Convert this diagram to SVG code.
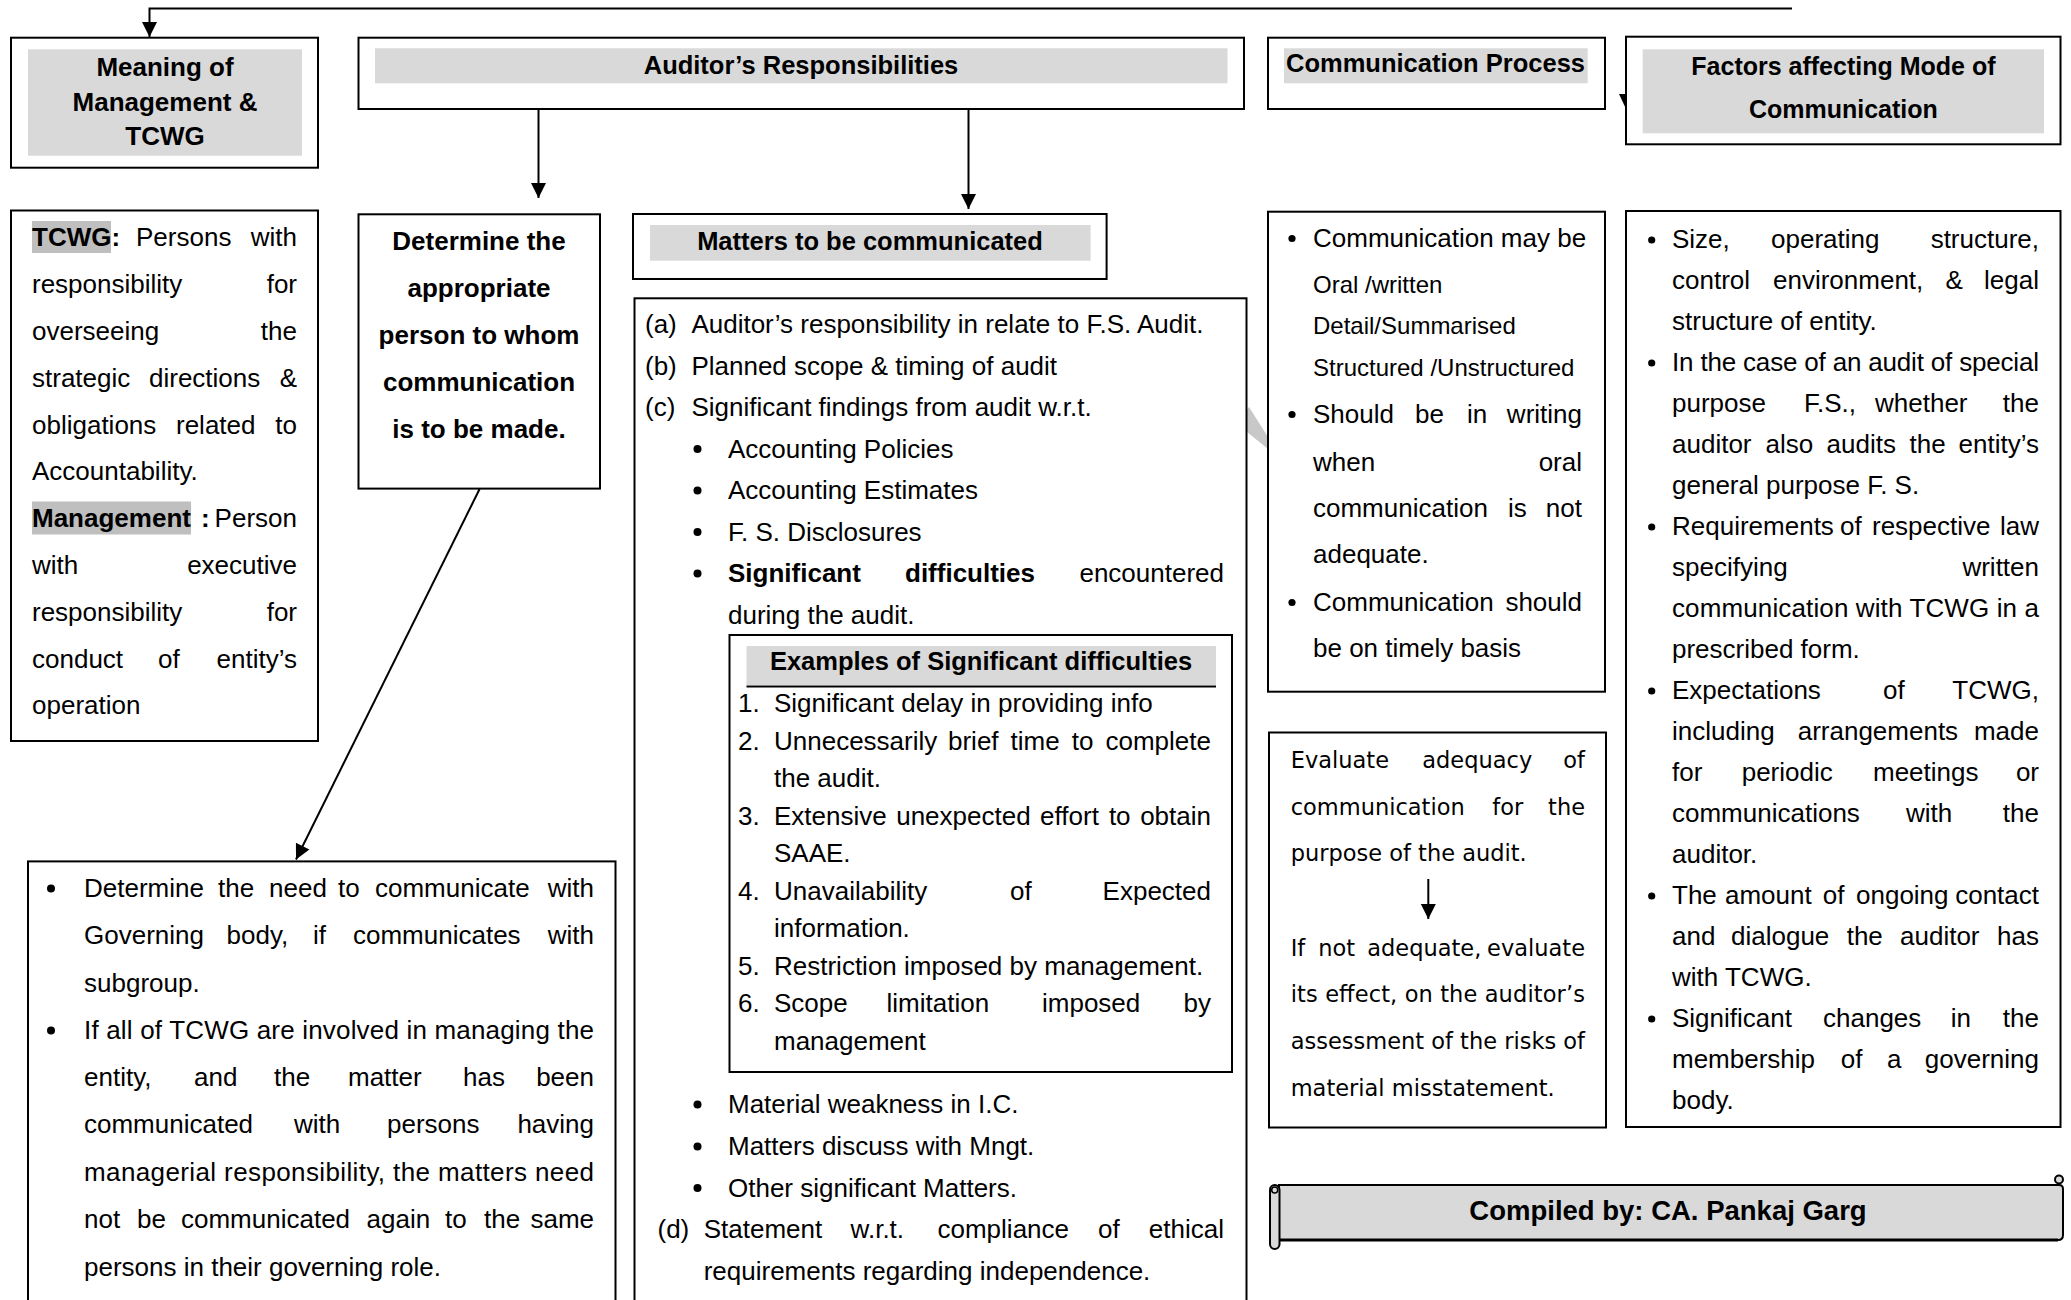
<svg xmlns="http://www.w3.org/2000/svg" width="2071" height="1300" viewBox="0 0 2071 1300">
<defs>
<style>
.box{fill:#fff;stroke:#000;stroke-width:2}
.band{fill:#d9d9d9}
.hl{fill:#bfbfbf}
.t{font-family:"Liberation Sans",Arial,sans-serif;font-size:26px;fill:#000}
.b{font-weight:bold}
.s{font-size:24px}
.hd{font-family:"Liberation Sans",Arial,sans-serif;font-size:25.5px;font-weight:bold;fill:#000;text-anchor:middle}
.hd26{font-size:26px}
.hd25{font-size:25px}
.v{font-family:"DejaVu Sans",Verdana,sans-serif;font-size:22.5px;fill:#000}
.e{text-anchor:end}
.dot{fill:#000}
.wire{fill:none;stroke:#000;stroke-width:2}
</style>
<marker id="ah" markerUnits="userSpaceOnUse" markerWidth="16" markerHeight="16" viewBox="0 0 16 16" refX="15" refY="8" orient="auto">
<path d="M0,0.5 L15,8 L0,15.5 z" fill="#000"/>
</marker>
</defs>
<rect width="2071" height="1300" fill="#fff"/>

<!-- faint watermark stroke showing in the gap between the two middle columns -->
<polygon points="1247,410 1249,407 1268,437 1268,449 1247,432" fill="#c8c8c8"/>

<!-- top row headings -->
<g id="meaning">
<rect class="box" x="11" y="37.7" width="307" height="130"/>
<rect class="band" x="28" y="49.3" width="274" height="106.4"/>
<text class="hd hd26" x="165" y="76">Meaning of</text>
<text class="hd hd26" x="165" y="110.5">Management &amp;</text>
<text class="hd hd26" x="165" y="145">TCWG</text>
</g>

<g id="auditor-resp">
<rect class="box" x="358.5" y="37.7" width="885.5" height="71.3"/>
<rect class="band" x="375" y="48.3" width="852.5" height="35"/>
<text class="hd" x="801" y="74">Auditor’s Responsibilities</text>
</g>

<g id="comm-process">
<rect class="box" x="1268" y="37.7" width="337" height="71.3"/>
<rect class="band" x="1284" y="48.3" width="303.7" height="35"/>
<text class="hd" x="1435.5" y="72">Communication Process</text>
</g>

<g id="factors">
<rect class="box" x="1626" y="36.7" width="434.5" height="107.6"/>
<rect class="band" x="1642.7" y="49.3" width="401.3" height="84"/>
<text class="hd hd25" x="1843.4" y="75">Factors affecting Mode of</text>
<text class="hd hd25" x="1843.4" y="118">Communication</text>
</g>

<!-- definitions of TCWG and management -->
<g id="tcwg-def">
<rect class="box" x="11" y="210.5" width="307" height="530.5"/>
<rect class="hl" x="32" y="221" width="79" height="32"/>
<rect class="hl" x="32" y="501.5" width="159" height="33"/>
<text class="t" y="246.4"><tspan x="32" class="b">TCWG:</tspan><tspan x="136">Persons</tspan></text><text class="t e" x="297" y="246.4">with</text>
<text class="t" x="32" y="293.2">responsibility</text><text class="t e" x="297" y="293.2">for</text>
<text class="t" x="32" y="340">overseeing</text><text class="t e" x="297" y="340">the</text>
<text class="t" y="386.8"><tspan x="32">strategic</tspan><tspan x="149">directions</tspan></text><text class="t e" x="297" y="386.8">&amp;</text>
<text class="t" y="433.6"><tspan x="32">obligations</tspan><tspan x="176">related</tspan></text><text class="t e" x="297" y="433.6">to</text>
<text class="t" x="32" y="480.4">Accountability.</text>
<text class="t b" y="527.2"><tspan x="32">Management</tspan><tspan x="201">:</tspan></text><text class="t e" x="297" y="527.2">Person</text>
<text class="t" x="32" y="574">with</text><text class="t e" x="297" y="574">executive</text>
<text class="t" x="32" y="620.8">responsibility</text><text class="t e" x="297" y="620.8">for</text>
<text class="t" y="667.6"><tspan x="32">conduct</tspan><tspan x="158">of</tspan></text><text class="t e" x="297" y="667.6">entity’s</text>
<text class="t" x="32" y="714.4">operation</text>
</g>

<g id="determine">
<rect class="box" x="358.5" y="214.3" width="241.5" height="274.3"/>
<text class="hd hd26" x="479" y="250">Determine the</text>
<text class="hd hd26" x="479" y="297">appropriate</text>
<text class="hd hd26" x="479" y="344">person to whom</text>
<text class="hd hd26" x="479" y="391">communication</text>
<text class="hd hd26" x="479" y="438">is to be made.</text>
</g>

<g id="matters-head">
<rect class="box" x="633" y="214" width="473.6" height="65"/>
<rect class="band" x="650" y="225" width="440.6" height="35.7"/>
<text class="hd" x="870" y="250">Matters to be communicated</text>
</g>

<g id="matters">
<rect class="box" x="634.5" y="298.3" width="612" height="1020"/>
<text class="t" x="645" y="333.3">(a)</text><text class="t" x="691.4" y="333.3">Auditor’s responsibility in relate to F.S. Audit.</text>
<text class="t" x="645" y="374.8">(b)</text><text class="t" x="691.4" y="374.8">Planned scope &amp; timing of audit</text>
<text class="t" x="645" y="416.3">(c)</text><text class="t" x="691.4" y="416.3">Significant findings from audit w.r.t.</text>
<circle class="dot" cx="697.5" cy="449" r="4"/><text class="t" x="728" y="457.8">Accounting Policies</text>
<circle class="dot" cx="697.5" cy="490.5" r="4"/><text class="t" x="728" y="499.3">Accounting Estimates</text>
<circle class="dot" cx="697.5" cy="532" r="4"/><text class="t" x="728" y="540.8">F. S. Disclosures</text>
<circle class="dot" cx="697.5" cy="573.5" r="4"/><text class="t b" y="582.3"><tspan x="728">Significant</tspan><tspan x="905">difficulties</tspan></text><text class="t e" x="1224" y="582.3">encountered</text>
<text class="t" x="728" y="623.8">during the audit.</text>
<circle class="dot" cx="697.5" cy="1104.5" r="4"/><text class="t" x="728" y="1113">Material weakness in I.C.</text>
<circle class="dot" cx="697.5" cy="1146.5" r="4"/><text class="t" x="728" y="1155">Matters discuss with Mngt.</text>
<circle class="dot" cx="697.5" cy="1188" r="4"/><text class="t" x="728" y="1196.5">Other significant Matters.</text>
<text class="t" x="657.5" y="1238">(d)</text>
<text class="t" y="1238"><tspan x="703.7">Statement</tspan><tspan x="850.6">w.r.t.</tspan><tspan x="937.5">compliance</tspan><tspan x="1098">of</tspan></text><text class="t e" x="1224" y="1238">ethical</text>
<text class="t" x="703.7" y="1279.5">requirements regarding independence.</text>
</g>

<g id="examples">
<rect class="box" x="729.5" y="635" width="502.5" height="437"/>
<rect class="band" x="746.5" y="646" width="469.5" height="39"/>
<line x1="746.5" y1="686.5" x2="1216" y2="686.5" stroke="#000" stroke-width="2"/>
<text class="hd" x="981" y="670">Examples of Significant difficulties</text>
<text class="t" x="738" y="712">1.</text><text class="t" x="774" y="712">Significant delay in providing info</text>
<text class="t" x="738" y="749.5">2.</text><text class="t" y="749.5"><tspan x="774">Unnecessarily</tspan><tspan x="948">brief</tspan><tspan x="1010.6">time</tspan><tspan x="1071.8">to</tspan></text><text class="t e" x="1211" y="749.5">complete</text>
<text class="t" x="774" y="787">the audit.</text>
<text class="t" x="738" y="824.5">3.</text><text class="t" y="824.5"><tspan x="774">Extensive</tspan><tspan x="896.2">unexpected</tspan><tspan x="1040.1">effort</tspan><tspan x="1108.9">to</tspan></text><text class="t e" x="1211" y="824.5">obtain</text>
<text class="t" x="774" y="862">SAAE.</text>
<text class="t" x="738" y="899.5">4.</text><text class="t" y="899.5"><tspan x="774">Unavailability</tspan><tspan x="1010">of</tspan></text><text class="t e" x="1211" y="899.5">Expected</text>
<text class="t" x="774" y="937">information.</text>
<text class="t" x="738" y="974.5">5.</text><text class="t" x="774" y="974.5">Restriction imposed by management.</text>
<text class="t" x="738" y="1012">6.</text><text class="t" y="1012"><tspan x="774">Scope</tspan><tspan x="886.5">limitation</tspan><tspan x="1042">imposed</tspan></text><text class="t e" x="1211" y="1012">by</text>
<text class="t" x="774" y="1049.5">management</text>
</g>

<g id="governing">
<rect class="box" x="28" y="861.4" width="587.5" height="460"/>
<circle class="dot" cx="51" cy="888.5" r="4"/>
<text class="t" y="897"><tspan x="84">Determine</tspan><tspan x="218">the</tspan><tspan x="269">need</tspan><tspan x="338">to</tspan><tspan x="375">communicate</tspan></text><text class="t e" x="594" y="897">with</text>
<text class="t" y="944"><tspan x="84">Governing</tspan><tspan x="226.5">body,</tspan><tspan x="313">if</tspan><tspan x="353">communicates</tspan></text><text class="t e" x="594" y="944">with</text>
<text class="t" x="84" y="991.5">subgroup.</text>
<circle class="dot" cx="51" cy="1030.5" r="4"/>
<text class="t" x="84" y="1039" textLength="510" lengthAdjust="spacing">If all of TCWG are involved in managing the</text>
<text class="t" y="1086"><tspan x="84">entity,</tspan><tspan x="194">and</tspan><tspan x="274">the</tspan><tspan x="348">matter</tspan><tspan x="463">has</tspan></text><text class="t e" x="594" y="1086">been</text>
<text class="t" y="1133"><tspan x="84">communicated</tspan><tspan x="294">with</tspan><tspan x="387">persons</tspan></text><text class="t e" x="594" y="1133">having</text>
<text class="t" x="84" y="1181" textLength="510" lengthAdjust="spacing">managerial responsibility, the matters need</text>
<text class="t" y="1228"><tspan x="84">not</tspan><tspan x="137">be</tspan><tspan x="181">communicated</tspan><tspan x="366.5">again</tspan><tspan x="445">to</tspan><tspan x="484">the</tspan></text><text class="t e" x="594" y="1228">same</text>
<text class="t" x="84" y="1275.5">persons in their governing role.</text>
</g>

<g id="comm-modes">
<rect class="box" x="1268" y="211.7" width="337" height="480"/>
<circle class="dot" cx="1292" cy="238.5" r="3.6"/><text class="t" x="1313" y="246.7">Communication may be</text>
<text class="t s" x="1313" y="292.7">Oral /written</text>
<text class="t s" x="1313" y="334">Detail/Summarised</text>
<text class="t s" x="1313" y="376">Structured /Unstructured</text>
<circle class="dot" cx="1292" cy="414.5" r="3.6"/><text class="t" y="422.7"><tspan x="1313">Should</tspan><tspan x="1415">be</tspan><tspan x="1467">in</tspan></text><text class="t e" x="1582" y="422.7">writing</text>
<text class="t" x="1313" y="470.7">when</text><text class="t e" x="1582" y="470.7">oral</text>
<text class="t" y="516.7"><tspan x="1313">communication</tspan><tspan x="1508">is</tspan></text><text class="t e" x="1582" y="516.7">not</text>
<text class="t" x="1313" y="563">adequate.</text>
<circle class="dot" cx="1292" cy="602.5" r="3.6"/><text class="t" x="1313" y="610.7">Communication</text><text class="t e" x="1582" y="610.7">should</text>
<text class="t" x="1313" y="657">be on timely basis</text>
</g>

<g id="factors-list">
<rect class="box" x="1626" y="211" width="434.5" height="916"/>
<circle class="dot" cx="1651.7" cy="240" r="3.6"/><text class="t" y="248"><tspan x="1672">Size,</tspan><tspan x="1771">operating</tspan></text><text class="t e" x="2039" y="248">structure,</text>
<text class="t" y="289"><tspan x="1672">control</tspan><tspan x="1773">environment,</tspan><tspan x="1945.5">&amp;</tspan></text><text class="t e" x="2039" y="289">legal</text>
<text class="t" x="1672" y="330">structure of entity.</text>
<circle class="dot" cx="1651.7" cy="363" r="3.6"/><text class="t" x="1672" y="371" textLength="367" lengthAdjust="spacing">In the case of an audit of special</text>
<text class="t" y="412"><tspan x="1672">purpose</tspan><tspan x="1804">F.S.,</tspan><tspan x="1875">whether</tspan></text><text class="t e" x="2039" y="412">the</text>
<text class="t" y="453"><tspan x="1672">auditor</tspan><tspan x="1765.5">also</tspan><tspan x="1826.5">audits</tspan><tspan x="1909.5">the</tspan></text><text class="t e" x="2039" y="453">entity’s</text>
<text class="t" x="1672" y="494">general purpose F. S.</text>
<circle class="dot" cx="1651.7" cy="527" r="3.6"/><text class="t" y="535"><tspan x="1672">Requirements</tspan><tspan x="1840">of</tspan><tspan x="1872">respective</tspan></text><text class="t e" x="2039" y="535">law</text>
<text class="t" x="1672" y="576">specifying</text><text class="t e" x="2039" y="576">written</text>
<text class="t" x="1672" y="617" textLength="367" lengthAdjust="spacing">communication with TCWG in a</text>
<text class="t" x="1672" y="658">prescribed form.</text>
<circle class="dot" cx="1651.7" cy="691" r="3.6"/><text class="t" y="699"><tspan x="1672">Expectations</tspan><tspan x="1883">of</tspan></text><text class="t e" x="2039" y="699">TCWG,</text>
<text class="t" y="740"><tspan x="1672">including</tspan><tspan x="1797.7">arrangements</tspan></text><text class="t e" x="2039" y="740">made</text>
<text class="t" y="781"><tspan x="1672">for</tspan><tspan x="1741.7">periodic</tspan><tspan x="1873">meetings</tspan></text><text class="t e" x="2039" y="781">or</text>
<text class="t" y="822"><tspan x="1672">communications</tspan><tspan x="1906">with</tspan></text><text class="t e" x="2039" y="822">the</text>
<text class="t" x="1672" y="863">auditor.</text>
<circle class="dot" cx="1651.7" cy="896" r="3.6"/><text class="t" y="904"><tspan x="1672">The</tspan><tspan x="1725">amount</tspan><tspan x="1822.7">of</tspan><tspan x="1856">ongoing</tspan></text><text class="t e" x="2039" y="904">contact</text>
<text class="t" y="945"><tspan x="1672">and</tspan><tspan x="1731">dialogue</tspan><tspan x="1846.7">the</tspan><tspan x="1900">auditor</tspan></text><text class="t e" x="2039" y="945">has</text>
<text class="t" x="1672" y="986">with TCWG.</text>
<circle class="dot" cx="1651.7" cy="1019" r="3.6"/><text class="t" y="1027"><tspan x="1672">Significant</tspan><tspan x="1823">changes</tspan><tspan x="1950.7">in</tspan></text><text class="t e" x="2039" y="1027">the</text>
<text class="t" y="1068"><tspan x="1672">membership</tspan><tspan x="1840.7">of</tspan><tspan x="1887">a</tspan></text><text class="t e" x="2039" y="1068">governing</text>
<text class="t" x="1672" y="1109">body.</text>
</g>

<g id="evaluate">
<rect class="box" x="1269" y="732.5" width="337" height="395"/>
<text class="v" y="768"><tspan x="1290.7">Evaluate</tspan><tspan x="1422.3">adequacy</tspan></text><text class="v e" x="1585" y="768">of</text>
<text class="v" y="814.7"><tspan x="1290.7">communication</tspan><tspan x="1492.3">for</tspan></text><text class="v e" x="1585" y="814.7">the</text>
<text class="v" x="1290.7" y="861">purpose of the audit.</text>
<text class="v" y="955.6"><tspan x="1290.7">If</tspan><tspan x="1318.3">not</tspan><tspan x="1367.3">adequate,</tspan></text><text class="v e" x="1585" y="955.6">evaluate</text>
<text class="v" x="1290.7" y="1002.3" textLength="294.3" lengthAdjust="spacing">its effect, on the auditor’s</text>
<text class="v" x="1290.7" y="1049" textLength="294.3" lengthAdjust="spacing">assessment of the risks of</text>
<text class="v" x="1290.7" y="1095.7">material misstatement.</text>
</g>

<!-- scroll-shaped credit banner -->
<g id="footer">
<path d="M1279,1185 H2059 Q2063,1185 2063,1189 V1235 Q2063,1240 2058,1240 H1279 Z" fill="#d9d9d9" stroke="#000" stroke-width="2"/>
<line x1="1279" y1="1240" x2="2058" y2="1240" stroke="#000" stroke-width="3"/>
<rect x="1270" y="1185" width="9.5" height="64" rx="4.7" fill="#d9d9d9" stroke="#000" stroke-width="2"/>
<circle cx="1274.7" cy="1190" r="3" fill="none" stroke="#000" stroke-width="1.5"/>
<circle cx="2059" cy="1179.5" r="4" fill="#d9d9d9" stroke="#000" stroke-width="2"/>
<text class="t b" x="1668" y="1220" text-anchor="middle" style="font-size:27.5px">Compiled by: CA. Pankaj Garg</text>
</g>

<g id="connectors">
<path class="wire" d="M1792,8.5 H149.5 V37" marker-end="url(#ah)"/>
<path class="wire" d="M538.5,109 V198" marker-end="url(#ah)"/>
<path class="wire" d="M968.5,109 V209" marker-end="url(#ah)"/>
<path class="wire" d="M479.6,489 L296,859.5" marker-end="url(#ah)"/>
<path class="wire" d="M1428.3,879 V919" marker-end="url(#ah)"/>
<polygon points="1619,94 1625,94 1625,106.8" fill="#000"/>
</g>
</svg>
